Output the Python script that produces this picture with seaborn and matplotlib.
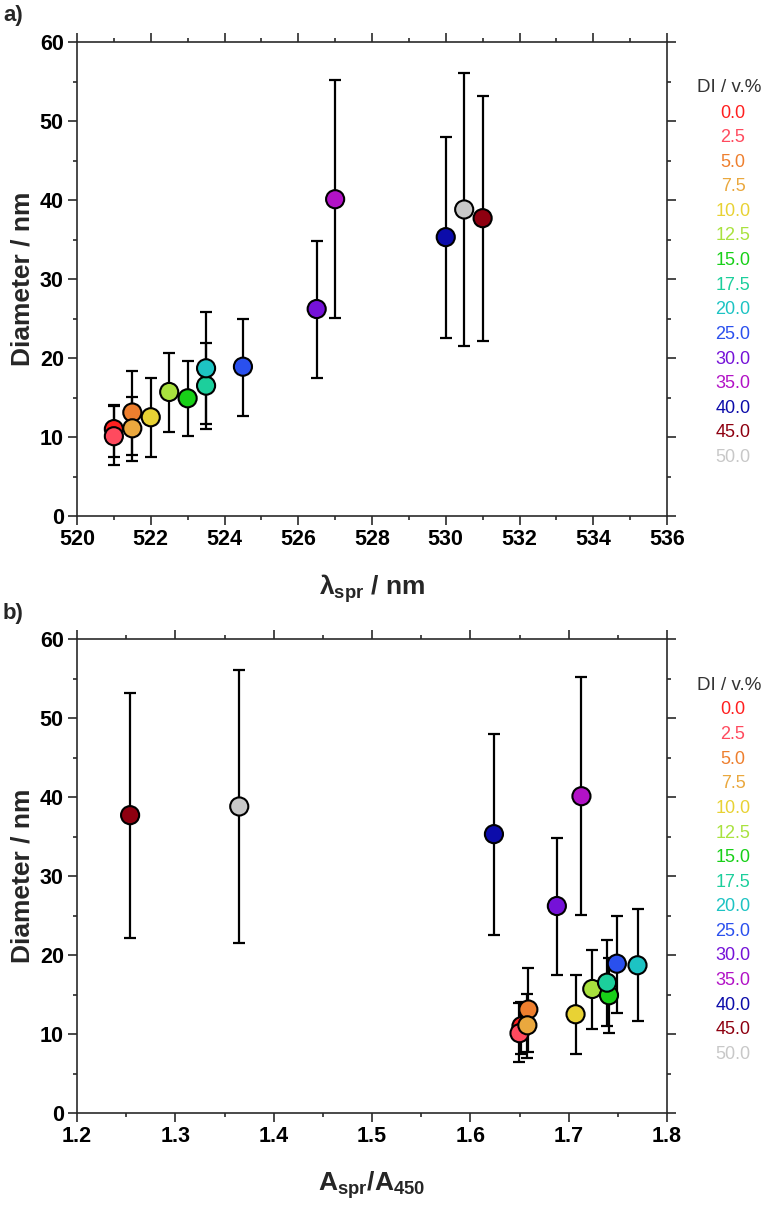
import matplotlib
matplotlib.use("Agg")
import matplotlib.pyplot as plt
import seaborn as sns
import pandas as pd
from matplotlib.ticker import MultipleLocator

# ---- data ----
di_labels = ["0.0", "2.5", "5.0", "7.5", "10.0", "12.5", "15.0", "17.5",
             "20.0", "25.0", "30.0", "35.0", "40.0", "45.0", "50.0"]
lambda_spr = [521.0, 521.0, 521.5, 521.5, 522.0, 522.5, 523.0, 523.5,
              523.5, 524.5, 526.5, 527.0, 530.0, 531.0, 530.5]
a_ratio = [1.652, 1.650, 1.659, 1.658, 1.707, 1.724, 1.741, 1.739,
           1.770, 1.749, 1.688, 1.713, 1.624, 1.254, 1.365]
diameter = [11.0, 10.1, 13.1, 11.1, 12.5, 15.7, 14.9, 16.5,
            18.7, 18.9, 26.2, 40.1, 35.3, 37.7, 38.8]
d_low = [7.5, 6.4, 7.7, 6.9, 7.5, 10.6, 10.1, 11.0,
         11.6, 12.7, 17.5, 25.1, 22.5, 22.2, 21.5]
d_high = [14.0, 13.9, 18.4, 15.1, 17.5, 20.6, 19.6, 21.9,
          25.8, 25.0, 34.8, 55.2, 48.0, 53.2, 56.1]
colors = ["#ff1f1f", "#ff4a5e", "#ee7f2e", "#eaa83e", "#e8d234", "#a9e23e",
          "#18d018", "#1ccf9c", "#1dc3c3", "#2a50ee", "#7512d8", "#b212c6",
          "#0c0caa", "#8e0010", "#c8c8c8"]

df = pd.DataFrame({"DI": di_labels, "lam": lambda_spr, "ratio": a_ratio,
                   "d": diameter, "lo": d_low, "hi": d_high})
palette = dict(zip(di_labels, colors))

sns.set_theme(style="white")
plt.rcParams["font.family"] = ["Liberation Sans", "DejaVu Sans"]
plt.rcParams["mathtext.fontset"] = "custom"
plt.rcParams["mathtext.rm"] = "Liberation Sans"
plt.rcParams["mathtext.bf"] = "Liberation Sans:bold"

W, H = 769, 1206
fig = plt.figure(figsize=(W / 100, H / 100), dpi=100)
ax_left = 77 / W
ax_w = 590 / W
ax_h = 474 / H
ax1 = fig.add_axes([ax_left, 1 - 516 / H, ax_w, ax_h])
ax2 = fig.add_axes([ax_left, 1 - 1113 / H, ax_w, ax_h])

spine_col = "#2a2a2a"


def style_axes(ax):
    for s in ax.spines.values():
        s.set_color(spine_col)
        s.set_linewidth(1.2)
    ax.tick_params(which="both", direction="out", top=True, right=True,
                   bottom=True, left=True, colors=spine_col,
                   labelcolor="black", labelsize=15.5, width=1.2)
    ax.tick_params(which="major", length=6.5, pad=3)
    ax.tick_params(which="minor", length=3)
    for lab in ax.get_xticklabels() + ax.get_yticklabels():
        lab.set_fontweight("bold")
    ax.set_ylim(0, 60)
    ax.yaxis.set_major_locator(MultipleLocator(10))
    ax.yaxis.set_minor_locator(MultipleLocator(5))
    ax.set_ylabel("Diameter / nm", fontsize=19, fontweight="bold", labelpad=4)


def draw_panel(ax, xcol):
    ax.errorbar(df[xcol], df["d"], yerr=[df["d"] - df["lo"], df["hi"] - df["d"]],
                fmt="none", ecolor="black", elinewidth=1.6, capsize=4.5,
                capthick=1.6, zorder=2)
    sns.scatterplot(data=df, x=xcol, y="d", hue="DI", palette=palette,
                    hue_order=di_labels, s=170, edgecolor="black",
                    linewidth=1.5, legend=False, ax=ax, zorder=3)


draw_panel(ax1, "lam")
ax1.set_xlim(520, 536)
ax1.xaxis.set_major_locator(MultipleLocator(2))
ax1.xaxis.set_minor_locator(MultipleLocator(1))
style_axes(ax1)
ax1.set_xlabel("λ$_\\mathbf{spr}$ / nm", fontsize=19, fontweight="bold", labelpad=16)

draw_panel(ax2, "ratio")
ax2.set_xlim(1.2, 1.8)
ax2.xaxis.set_major_locator(MultipleLocator(0.1))
ax2.xaxis.set_minor_locator(MultipleLocator(0.05))
style_axes(ax2)
ax2.set_xlabel("A$_\\mathbf{spr}$/A$_\\mathbf{450}$", fontsize=19,
               fontweight="bold", labelpad=16)

# panel labels
fig.text(3 / W, 1 - 16 / H, "a)", fontsize=16, fontweight="bold", va="center")
fig.text(3 / W, 1 - 613 / H, "b)", fontsize=16, fontweight="bold", va="center")

# colour-coded text legends
for top in (88, 685):
    fig.text(729 / W, 1 - top / H, "DI / v.%", fontsize=13.5, color="#333333",
             ha="center", va="center")
    for i, (lab, col) in enumerate(zip(di_labels, colors)):
        y = top + 25 + 24.6 * i
        fig.text(733 / W, 1 - y / H, lab, fontsize=13, color=col,
                 ha="center", va="center")

fig.savefig("out.png", dpi=100, facecolor="white")
